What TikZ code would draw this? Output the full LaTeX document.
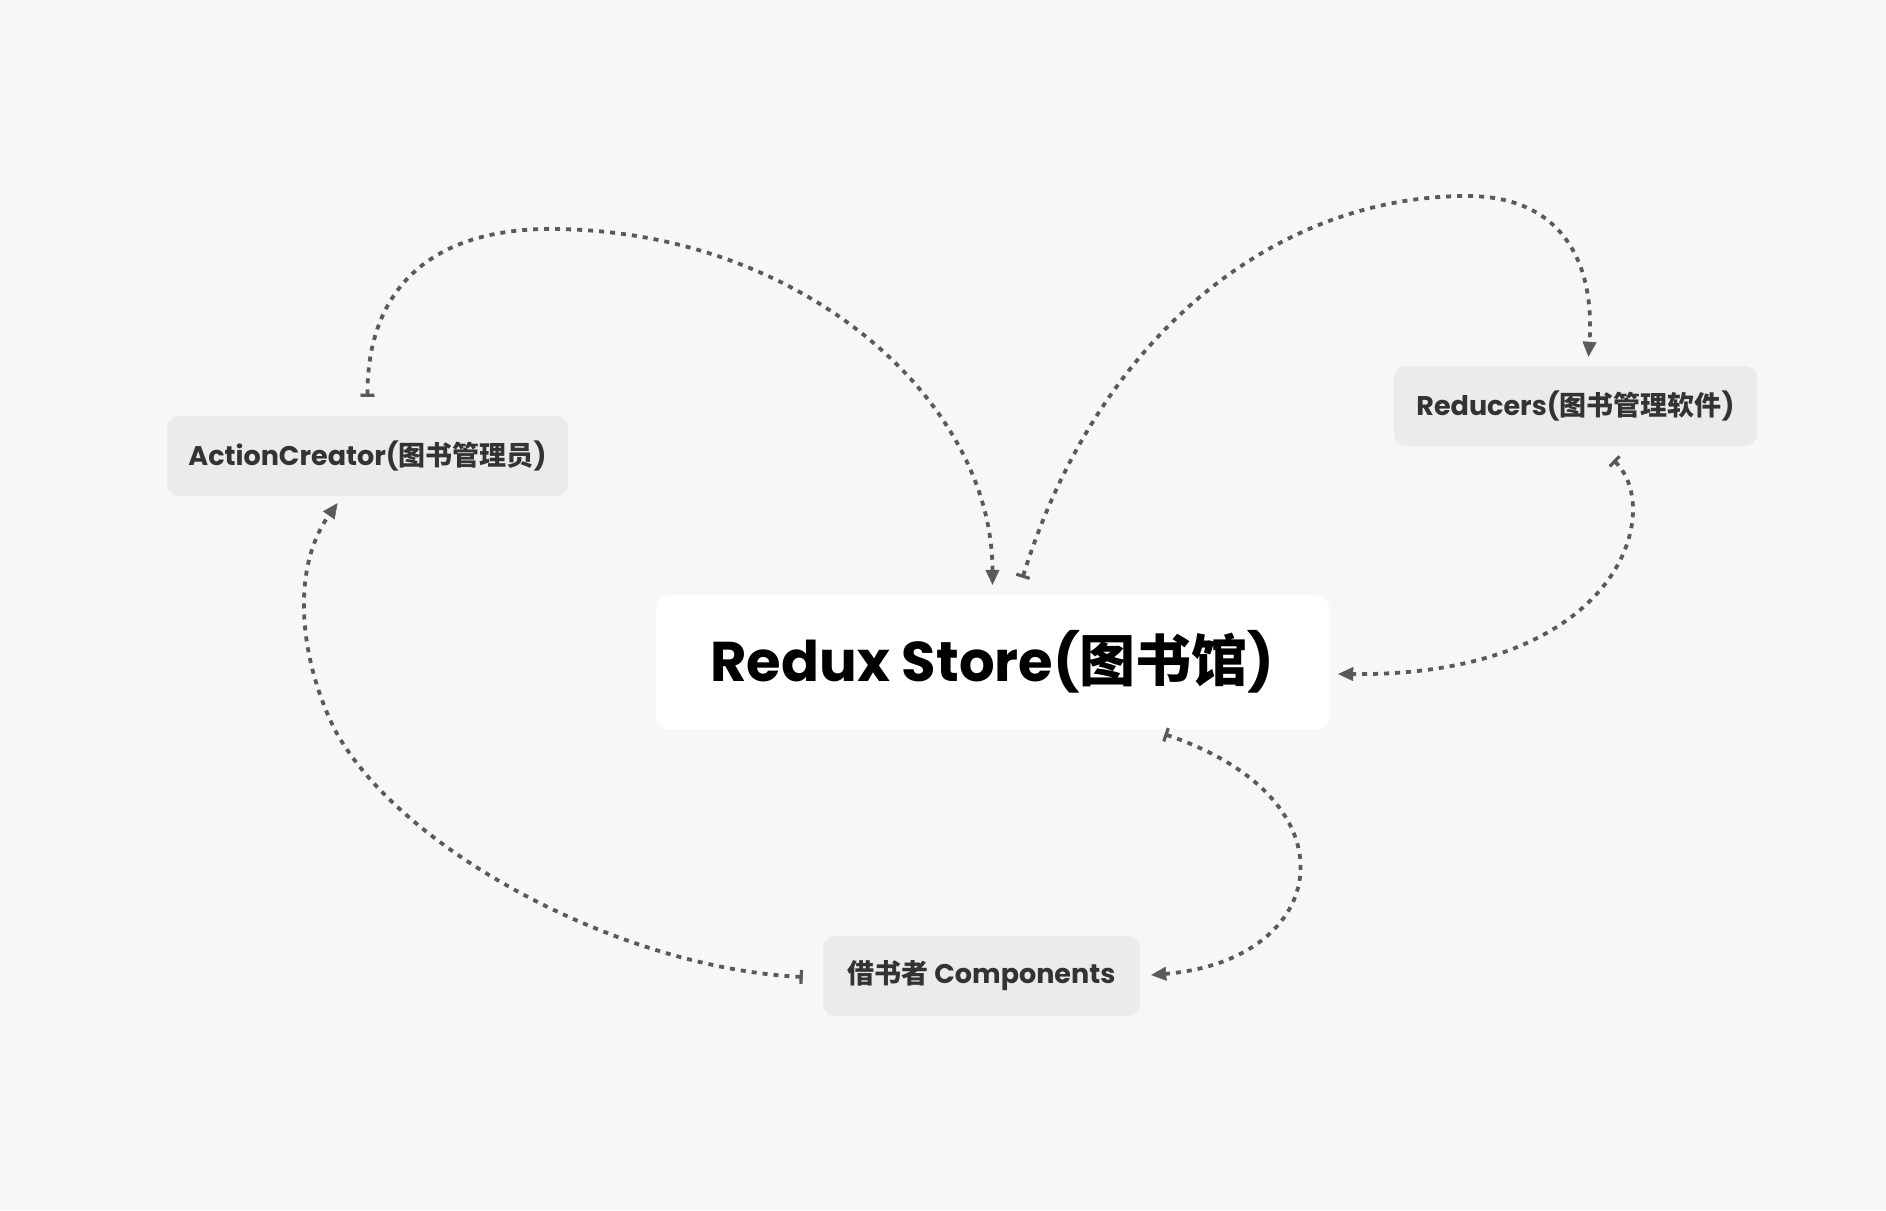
\documentclass[tikz,border=0pt]{standalone}
\usepackage{fontspec}
\newfontfamily\pop{Poppins}
\newfontfamily\cjk{Noto Sans CJK SC}
\usetikzlibrary{arrows.meta,calc}
\definecolor{bg}{HTML}{F7F7F9}
\definecolor{boxgray}{HTML}{EBEBEB}
\definecolor{txt}{HTML}{333333}
\definecolor{linkc}{HTML}{5A5A5A}
\begin{document}
\begin{tikzpicture}[x=1pt,y=-1pt,
  box/.style={fill=boxgray, rounded corners=12pt, inner sep=0pt, minimum height=80pt, text=txt,
    font=\pop\bfseries\fontsize{27}{32}\selectfont},
  mainbox/.style={fill=white, rounded corners=12pt, inner sep=0pt, minimum width=673pt, minimum height=134pt,
    text=black, font=\pop\bfseries\fontsize{56}{64}\selectfont},
  link/.style={draw=linkc, line width=3.8pt, dash pattern=on 5pt off 6pt,
    {Bar[width=14pt,line width=3.2pt]}-{Triangle[length=15pt,width=14pt,line width=0.5pt]}}]
\useasboundingbox[fill=bg] (0,0) rectangle (1886,1210);

\node[box, minimum width=401pt] (ac) at (367.5,456) {ActionCreator({\cjk\bfseries 图书管理员})};
\node[mainbox] (rs) at (992.5,662) {Redux Store({\cjk\bfseries 图书馆})};
\node[box, minimum width=363pt] (red) at (1575.5,406) {Reducers({\cjk\bfseries 图书管理软件})};
\node[box, minimum width=317pt] (comp) at (981.5,976) {{\cjk\bfseries 借书者} Components};

% ActionCreator -> Redux Store
\draw[link] ($(ac.north)+(0,-19)$) .. controls (367,290) and (430,229) .. (550,229)
  .. controls (800,229) and (992,400) .. ($(rs.north)+(0,-10)$);
% Redux Store -> Reducers
\draw[link] ($(rs.north)+(30,-17)$) .. controls (1100,330) and (1280,196) .. (1467,196)
  .. controls (1560,196) and (1595,260) .. ($(red.north)+(13,-9)$);
% Reducers -> Redux Store
\draw[link] ($(red.south)+(38,14)$) .. controls (1665,510) and (1620,676) .. ($(rs.east)+(9,12)$);
% Redux Store -> Components
\draw[link] ($(rs.south)+(172,5)$) .. controls (1360,800) and (1330,960) .. ($(comp.east)+(11,-1)$);
% Components -> ActionCreator
\draw[link] ($(comp.west)+(-20,1)$) .. controls (620,968) and (400,850) .. (335,730)
  .. controls (300,660) and (290,570) .. ($(ac.south)+(-30,7)$);
\end{tikzpicture}
\end{document}
